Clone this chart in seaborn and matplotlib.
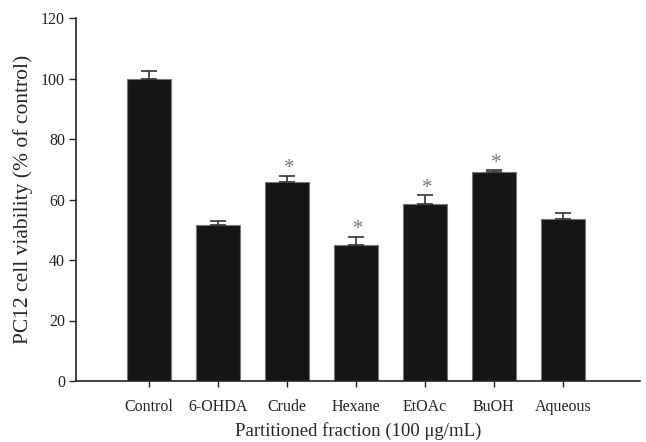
import matplotlib
matplotlib.use("Agg")
import matplotlib.pyplot as plt
import seaborn as sns
import numpy as np
import pandas as pd

categories = ["Control", "6-OHDA", "Crude", "Hexane", "EtOAc", "BuOH", "Aqueous"]
viability = [100.0, 51.5, 65.8, 45.1, 58.6, 69.2, 53.4]
sem = [2.6, 1.5, 2.1, 2.6, 2.9, 0.6, 2.3]
significant = [False, False, True, True, True, True, False]

sns.set_style("ticks")
plt.rcParams["font.family"] = ["Liberation Serif", "DejaVu Serif"]
plt.rcParams["mathtext.fontset"] = "stix"

df = pd.DataFrame({"fraction": categories, "viability": viability})

fig = plt.figure(figsize=(6.46, 4.42), dpi=100)
ax = fig.add_axes([76/646, 1 - 381/442, (640-76)/646, (381-18)/442])

sns.barplot(data=df, x="fraction", y="viability", order=categories,
            color="#141615", saturation=1, width=0.64, errorbar=None,
            edgecolor="#777777", linewidth=0.8, ax=ax)

x = np.arange(len(categories))
ax.errorbar(x, viability, yerr=[np.zeros(len(sem)), sem], fmt="none",
            ecolor="#333333", elinewidth=1.2, capsize=5.5, capthick=1.2, zorder=3)

for xi, v, s, sig in zip(x, viability, sem, significant):
    if sig:
        ax.text(xi + 0.03, v + s - 0.9, "*", ha="center", va="bottom",
                fontsize=15, color="#777777")

ax.set_xlim(-1.06, 7.12)
ax.set_ylim(0, 120)
ax.set_yticks([0, 20, 40, 60, 80, 100, 120])
ax.set_xlabel("Partitioned fraction (100 μg/mL)", fontsize=13.5, labelpad=5)
ax.set_ylabel("PC12 cell viability (% of control)", fontsize=15.5, labelpad=6)
ax.tick_params(axis="both", labelsize=11.5, direction="out", width=1, colors="#222222")
ax.tick_params(axis="y", length=5, pad=3)
ax.tick_params(axis="x", length=4, pad=9)
for sp in ["top", "right"]:
    ax.spines[sp].set_visible(False)
for sp in ["left", "bottom"]:
    ax.spines[sp].set_linewidth(1.2)
    ax.spines[sp].set_color("#222222")

fig.savefig("out.png", dpi=100)
